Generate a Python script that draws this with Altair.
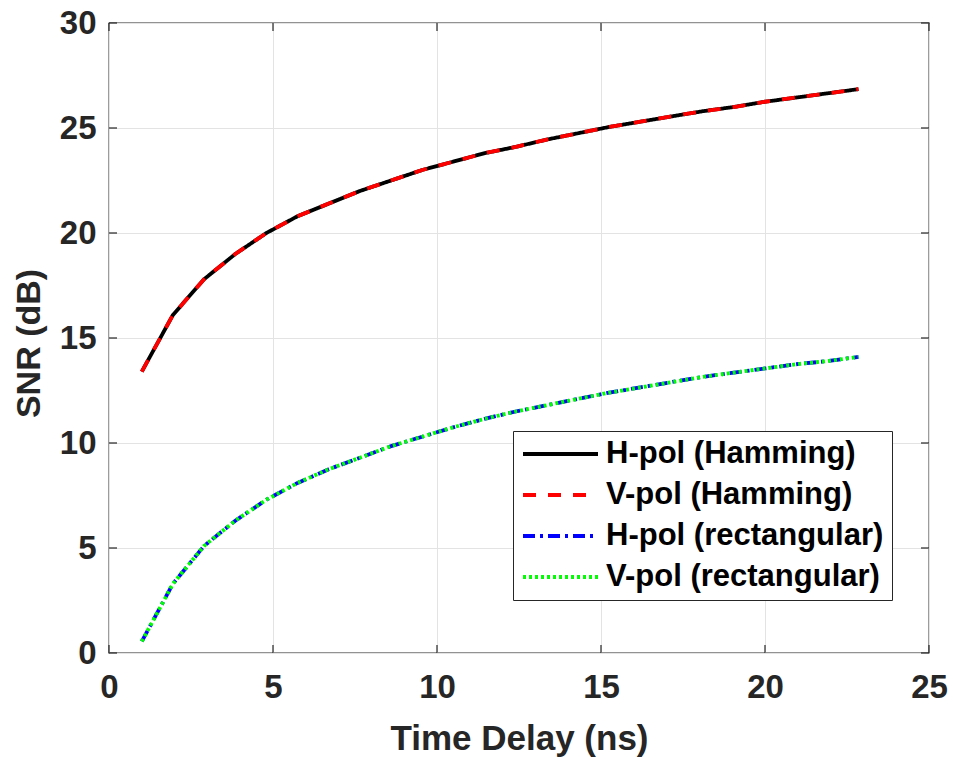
import altair as alt
import pandas as pd

# Time delay samples (ns)
time_delay = [1.00, 1.95, 2.90, 3.85, 4.80, 5.75, 6.70, 7.65, 8.60, 9.55,
              10.50, 11.45, 12.40, 13.35, 14.30, 15.25, 16.20, 17.15, 18.10,
              19.05, 20.00, 20.95, 21.90, 22.85]

# SNR (dB) with Hamming window
h_pol_hamming = [13.4, 16.1, 17.8, 19.0, 20.0, 20.8, 21.4, 22.0, 22.5, 23.0,
                 23.4, 23.8, 24.1, 24.45, 24.75, 25.05, 25.3, 25.55, 25.8,
                 26.0, 26.25, 26.45, 26.65, 26.85]
v_pol_hamming = [13.4, 16.1, 17.8, 19.0, 20.0, 20.8, 21.4, 22.0, 22.5, 23.0,
                 23.4, 23.8, 24.1, 24.45, 24.75, 25.05, 25.3, 25.55, 25.8,
                 26.0, 26.25, 26.45, 26.65, 26.85]

# SNR (dB) with rectangular window
h_pol_rect = [0.55, 3.3, 5.1, 6.3, 7.3, 8.1, 8.75, 9.3, 9.85, 10.3,
              10.75, 11.15, 11.5, 11.8, 12.1, 12.4, 12.65, 12.9, 13.15,
              13.35, 13.55, 13.75, 13.9, 14.1]
v_pol_rect = [0.55, 3.3, 5.1, 6.3, 7.3, 8.1, 8.75, 9.3, 9.85, 10.3,
              10.75, 11.15, 11.5, 11.8, 12.1, 12.4, 12.65, 12.9, 13.15,
              13.35, 13.55, 13.75, 13.9, 14.1]

series_names = ["H-pol (Hamming)", "V-pol (Hamming)",
                "H-pol (rectangular)", "V-pol (rectangular)"]
series_values = [h_pol_hamming, v_pol_hamming, h_pol_rect, v_pol_rect]
series_colors = ["#000000", "#ff0000", "#0000ff", "#00ff00"]
series_dashes = [[1, 0], [13, 12], [12, 5, 3, 5], [3, 3]]

x_ticks = [0, 5, 10, 15, 20, 25]
y_ticks = [0, 5, 10, 15, 20, 25, 30]

rows = []
for name, vals in zip(series_names, series_values):
    for t, v in zip(time_delay, vals):
        rows.append({"delay": t, "snr": v, "series": name})
df = pd.DataFrame(rows)

W, H = 820, 630
FONT = "Liberation Sans"
TXT = "#262626"

x_scale = alt.Scale(domain=[0, 25], nice=False)
y_scale = alt.Scale(domain=[0, 30], nice=False)

x_enc = alt.X("delay:Q", scale=x_scale,
              axis=alt.Axis(values=x_ticks, title="Time Delay (ns)",
                            labelPadding=18, labelFlush=False,
                            titleFontSize=35, titleBaseline="alphabetic",
                            titleY=96))
y_enc = alt.Y("snr:Q", scale=y_scale,
              axis=alt.Axis(values=y_ticks, title="SNR (dB)",
                            labelPadding=13, labelFlush=False,
                            titleFontSize=34, titleBaseline="alphabetic",
                            titleAngle=-90, titleAlign="center",
                            titleX=-70, titleY=320))
legend = alt.Legend(title=None, orient="none", legendX=404, legendY=408)
color_enc = alt.Color("series:N",
                      scale=alt.Scale(domain=series_names, range=series_colors),
                      legend=legend)
dash_enc = alt.StrokeDash("series:N",
                          scale=alt.Scale(domain=series_names, range=series_dashes),
                          legend=legend)

# one layer per series so the drawing order stays fixed
layers = []
for name in series_names:
    layers.append(
        alt.Chart(df).transform_filter(alt.datum.series == name)
        .mark_line(strokeWidth=3.8, strokeCap="butt")
        .encode(x=x_enc, y=y_enc, color=color_enc, strokeDash=dash_enc)
    )

# inward tick marks on all four sides of the box
xt = pd.DataFrame({"v": x_ticks})
yt = pd.DataFrame({"v": y_ticks})
tick_style = dict(color=TXT, strokeWidth=1.2)
ticks = [
    alt.Chart(xt).mark_rule(**tick_style).encode(
        x=alt.X("v:Q", scale=x_scale), y=alt.value(H), y2=alt.value(H - 8)),
    alt.Chart(xt).mark_rule(**tick_style).encode(
        x=alt.X("v:Q", scale=x_scale), y=alt.value(0), y2=alt.value(8)),
    alt.Chart(yt).mark_rule(**tick_style).encode(
        y=alt.Y("v:Q", scale=y_scale), x=alt.value(0), x2=alt.value(8)),
    alt.Chart(yt).mark_rule(**tick_style).encode(
        y=alt.Y("v:Q", scale=y_scale), x=alt.value(W), x2=alt.value(W - 8)),
]

chart = (
    alt.layer(*layers, *ticks)
    .properties(width=W, height=H,
                autosize=alt.AutoSizeParams(type="none"),
                padding={"left": 109, "top": 23, "right": 24, "bottom": 106})
    .configure(background="white")
    .configure_view(stroke=TXT, strokeWidth=1.3)
    .configure_axis(
        domain=False, ticks=False, grid=True, gridColor="#e3e3e3",
        gridWidth=1, labelFont=FONT, labelFontSize=33, labelFontWeight="bold",
        labelColor=TXT, titleFont=FONT, titleFontWeight="bold",
        titleColor=TXT)
    .configure_legend(
        labelFont=FONT, labelFontSize=31, labelFontWeight="bold",
        labelColor="#000000", labelLimit=600, symbolType="stroke",
        symbolSize=5625, symbolStrokeWidth=3.8, clipHeight=30,
        rowPadding=10, padding=8, labelOffset=6,
        strokeColor=TXT, fillColor="white", cornerRadius=0)
)

chart.save("out.html", embed_options={"renderer": "svg", "actions": False})
